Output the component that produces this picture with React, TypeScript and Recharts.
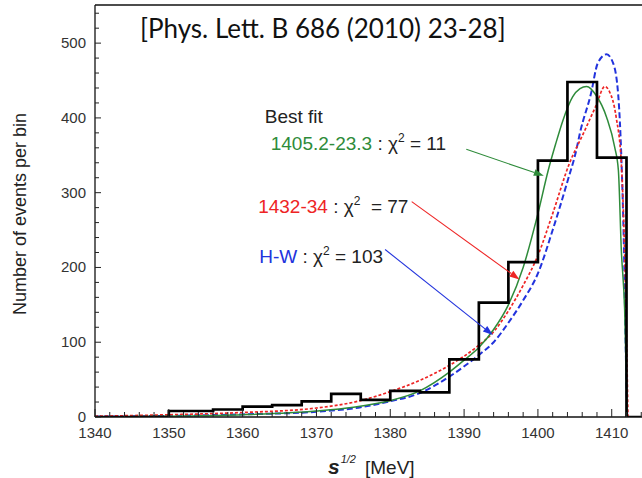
import { ComposedChart, Line, XAxis, YAxis, ReferenceLine, ReferenceDot } from "recharts"

// histogram (bin edges in MeV, counts per bin)
const binEdges = [1340, 1350, 1356, 1360, 1364, 1368, 1372, 1376, 1380, 1384, 1388, 1392, 1396, 1400, 1404, 1408, 1412, 1414]
const binCounts = [0, 8, 10, 14, 16, 21, 31, 23, 35, 33, 77, 153, 207, 343, 448, 347, 0, 0]

// fit curves
const greenX = [1340, 1350, 1360, 1370, 1375, 1380, 1384, 1388, 1390, 1392, 1394, 1396, 1398, 1400, 1401.4, 1402.4, 1403.4, 1404.7, 1405.7, 1406.6, 1407.9, 1409.3, 1410.4, 1410.9, 1411.3, 1411.75, 1412.1]
const greenY = [0, 1, 3, 8, 13, 22, 35, 60, 76, 93, 117, 150, 200, 272, 330, 365, 397, 428, 439, 442, 430, 401, 361, 330, 223, 143, 0]

const redX = [1340, 1350, 1360, 1370, 1376, 1380, 1384, 1388, 1392, 1394, 1396, 1398, 1400, 1402, 1404.3, 1406.1, 1407.9, 1409.05, 1409.7, 1410.6, 1411.3, 1411.8, 1412.2]
const redY = [1, 3, 6, 12, 22, 34, 49, 69, 96, 114, 142, 176, 216, 272, 340, 378, 417, 442, 435, 401, 339, 200, 0]

const blueX = [1340, 1350, 1360, 1370, 1376, 1380, 1384, 1388, 1392, 1394, 1396, 1398, 1400, 1402, 1404, 1405.2, 1405.7, 1407.2, 1408.1, 1409.3, 1410.2, 1410.9, 1411.3, 1411.66, 1411.9, 1412.1]
const blueY = [0.5, 1.5, 3.5, 7, 13, 21, 32, 54, 83, 100, 126, 156, 192, 250, 315, 357, 380, 433, 473, 485, 473, 428, 348, 223, 90, 0]

// axes
const xTicks = Array.from({ length: 38 }, (_, i) => 1340 + i * 2)
const yTicks = Array.from({ length: 28 }, (_, i) => i * 20)

// annotations: label anchor and arrow (data coords)
const fitNames = ["1405.2-23.3", "1432-34", "H-W"]
const fitChi = [11, 77, 103]
const labelX = [1363.8, 1362.1, 1362.25]
const labelY = [357, 272.7, 205.9]
const arrowFrom = [{ x: 1390.3, y: 358 }, { x: 1382.9, y: 288 }, { x: 1379.3, y: 224 }]
const arrowTo = [{ x: 1400.8, y: 322.6 }, { x: 1397.5, y: 184 }, { x: 1393.9, y: 109.6 }]

const GREEN = "#2e8b3a"
const RED = "#ee2424"
const BLUE = "#2233dd"
const fitColors = [GREEN, RED, BLUE]
const FONT = "'Liberation Sans', Arial, sans-serif"

const toPoints = (xs: number[], ys: number[]) => xs.map((x, i) => ({ x, y: ys[i] }))

const YTick = (props: any) => {
  const { x, y, payload } = props
  const major = payload.value % 100 === 0
  return (
    <g>
      <line x1={x} x2={x + (major ? 6 : 4)} y1={y} y2={y} stroke="#222" strokeWidth={1} />
      {major && (
        <text x={x - 9} y={y + 5} textAnchor="end" fontSize={15} fontFamily={FONT} fill="#333">
          {payload.value}
        </text>
      )}
    </g>
  )
}

const XTick = (props: any) => {
  const { x, y, payload } = props
  const major = payload.value % 10 === 0
  return (
    <g>
      <line x1={x} x2={x} y1={y} y2={y - (major ? 8 : 5)} stroke="#222" strokeWidth={1} />
      {major && (
        <text x={x} y={y + 21} textAnchor="middle" fontSize={15} fontFamily={FONT} fill="#333">
          {payload.value}
        </text>
      )}
    </g>
  )
}

const arrowShape = (color: string) => (props: any) => {
  const { x1, y1, x2, y2 } = props
  const a = Math.atan2(y2 - y1, x2 - x1)
  const len = 10
  const half = 3.5
  const bx = x2 - len * Math.cos(a)
  const by = y2 - len * Math.sin(a)
  const pts = [
    `${x2},${y2}`,
    `${bx + half * Math.sin(a)},${by - half * Math.cos(a)}`,
    `${bx - half * Math.sin(a)},${by + half * Math.cos(a)}`,
  ].join(" ")
  return (
    <g>
      <line x1={x1} y1={y1} x2={bx} y2={by} stroke={color} strokeWidth={1.1} />
      <polygon points={pts} fill={color} />
    </g>
  )
}

const fitLabel = (i: number) => (props: any) => (
  <text x={props.cx} y={props.cy} fontSize={19} fontFamily={FONT} fill="#222" style={{ whiteSpace: "pre" }}>
    <tspan fill={fitColors[i]}>{fitNames[i]}</tspan>
    <tspan>{" : \u03c7"}</tspan>
    <tspan fontSize={12} dy={-8}>2</tspan>
    <tspan dy={8}>{i === 1 ? "  = " + fitChi[i] : " = " + fitChi[i]}</tspan>
  </text>
)

const bestFitLabel = (props: any) => (
  <text x={props.cx} y={props.cy} fontSize={19} fontFamily={FONT} fill="#222">
    Best fit
  </text>
)

const YTitle = () => (
  <text
    x={26}
    y={214}
    transform="rotate(-90 26 214)"
    textAnchor="middle"
    fontSize={18}
    fontFamily={FONT}
    fill="#222"
  >
    Number of events per bin
  </text>
)

const XTitle = () => (
  <text x={328} y={474} fontFamily={FONT} fill="#222" style={{ whiteSpace: "pre" }}>
    <tspan fontStyle="italic" fontWeight="bold" fontSize={21}>s</tspan>
    <tspan fontStyle="italic" fontSize={11} dy={-11} dx={1}>1/2</tspan>
    <tspan fontSize={19} dy={11} dx={9}>[MeV]</tspan>
  </text>
)

export default function App() {
  const hist = toPoints(binEdges, binCounts)
  return (
    <div style={{ position: "absolute", left: 0, top: 0, width: 642, height: 478, background: "#fff" }}>
      <ComposedChart width={642} height={478} margin={{ top: 5, right: 0, bottom: 0, left: 0 }}>
        <XAxis
          dataKey="x"
          type="number"
          domain={[1340, 1414.1]}
          ticks={xTicks}
          interval={0}
          height={61}
          tickSize={0}
          tickMargin={0}
          tickLine={false}
          tick={XTick}
          axisLine={{ stroke: "#111", strokeWidth: 1.3 }}
          allowDataOverflow
          label={<XTitle />}
        />
        <YAxis
          type="number"
          domain={[0, 551]}
          ticks={yTicks}
          interval={0}
          width={95}
          tickSize={0}
          tickMargin={0}
          tickLine={false}
          tick={YTick}
          axisLine={{ stroke: "#111", strokeWidth: 1.3 }}
          allowDataOverflow
          label={<YTitle />}
        />
        <ReferenceLine y={551} stroke="#111" strokeWidth={1.3} />
        <Line
          data={toPoints(blueX, blueY)}
          dataKey="y"
          type="monotone"
          stroke={BLUE}
          strokeWidth={2}
          strokeDasharray="6 3"
          dot={false}
          isAnimationActive={false}
        />
        <Line
          data={toPoints(redX, redY)}
          dataKey="y"
          type="monotone"
          stroke={RED}
          strokeWidth={1.7}
          strokeDasharray="3 2"
          dot={false}
          isAnimationActive={false}
        />
        <Line
          data={toPoints(greenX, greenY)}
          dataKey="y"
          type="monotone"
          stroke={GREEN}
          strokeWidth={1.5}
          dot={false}
          isAnimationActive={false}
        />
        <Line
          data={hist}
          dataKey="y"
          type="stepAfter"
          stroke="#000"
          strokeWidth={2.7}
          dot={false}
          isAnimationActive={false}
        />
        {arrowFrom.map((p, i) => (
          <ReferenceLine
            key={"arr" + i}
            segment={[p, arrowTo[i]]}
            shape={arrowShape(fitColors[i])}
          />
        ))}
        <ReferenceDot x={1363.0} y={393} shape={bestFitLabel} />
        {fitNames.map((n, i) => (
          <ReferenceDot key={n} x={labelX[i]} y={labelY[i]} shape={fitLabel(i)} />
        ))}
      </ComposedChart>
      <div
        style={{
          position: "absolute",
          left: 140,
          top: 12,
          fontFamily: "Lato, sans-serif",
          fontSize: 26,
          color: "#111",
          whiteSpace: "nowrap",
          lineHeight: "normal",
        }}
      >
        [Phys. Lett. B 686 (2010) 23-28]
      </div>
    </div>
  )
}
